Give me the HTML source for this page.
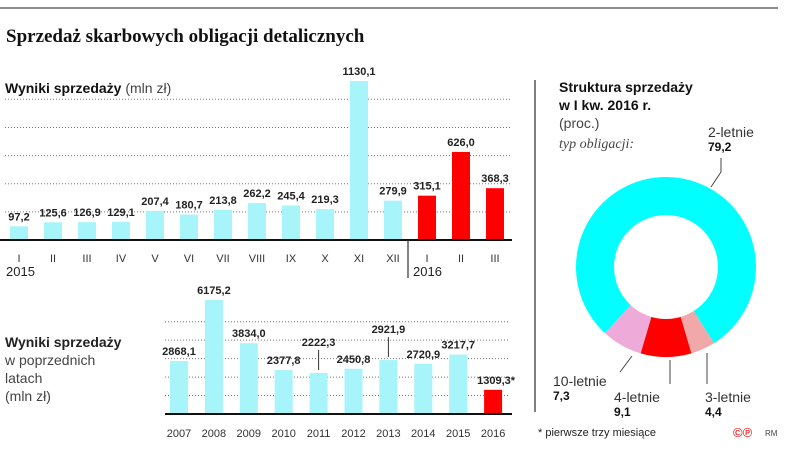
<!DOCTYPE html>
<html><head><meta charset="utf-8"><style>
body{margin:0;background:#fff;width:805px;height:453px;overflow:hidden;font-family:"Liberation Sans",sans-serif}
svg{display:block}
</style></head><body>
<svg id="s" width="805" height="453">
<line x1="0" y1="8" x2="778" y2="8" stroke="#666" stroke-width="1.5"/>
<text x="6" y="42" font-family="Liberation Serif,serif" font-weight="bold" font-size="19" fill="#111">Sprzedaż skarbowych obligacji detalicznych</text>
<text x="5" y="93" font-size="14" fill="#111"><tspan font-weight="bold">Wyniki sprzedaży</tspan> <tspan fill="#444">(mln zł)</tspan></text>
<g id="topg"></g>
<g id="bot"></g>
<g font-size="14" fill="#222">
<text x="5" y="347" font-weight="bold">Wyniki sprzedaży</text>
<text x="5" y="365" fill="#444">w poprzednich</text>
<text x="5" y="383" fill="#444">latach</text>
<text x="5" y="401" fill="#444">(mln zł)</text>
</g>
<line x1="535" y1="80" x2="535" y2="412" stroke="#555" stroke-width="1.5"/>
<g font-size="14" fill="#111">
<text x="559" y="92" font-weight="bold">Struktura sprzedaży</text>
<text x="559" y="110" font-weight="bold">w I kw. 2016 r.</text>
<text x="559" y="128" fill="#444">(proc.)</text>
<text x="559" y="148" fill="#444" font-family="Liberation Serif,serif" font-style="italic">typ obligacji:</text>
</g>
<g id="donut"></g>
<text x="538" y="436" font-size="11" fill="#222">* pierwsze trzy miesiące</text>
<text x="733" y="437" font-size="13" fill="#e33" font-weight="bold">©℗</text>
<text x="765" y="436" font-size="8" fill="#444">RM</text>
</svg>
<script>
const months=["I","II","III","IV","V","VI","VII","VIII","IX","X","XI","XII","I","II","III"];
const monthVals=[97.2,125.6,126.9,129.1,207.4,180.7,213.8,262.2,245.4,219.3,1130.1,279.9,315.1,626.0,368.3];
const monthLabels=["97,2","125,6","126,9","129,1","207,4","180,7","213,8","262,2","245,4","219,3","1130,1","279,9","315,1","626,0","368,3"];
const monthRed=[0,0,0,0,0,0,0,0,0,0,0,0,1,1,1];
const years=["2007","2008","2009","2010","2011","2012","2013","2014","2015","2016"];
const yearVals=[2868.1,6175.2,3834.0,2377.8,2222.3,2450.8,2921.9,2720.9,3217.7,1309.3];
const yearLabels=["2868,1","6175,2","3834,0","2377,8","2222,3","2450,8","2921,9","2720,9","3217,7","1309,3*"];
const pieNames=["2-letnie","3-letnie","4-letnie","10-letnie"];
const pieVals=[79.2,4.4,9.1,7.3];
const pieLabels=["79,2","4,4","9,1","7,3"];
const NS="http://www.w3.org/2000/svg";
function mk(p,t,a){const e=document.createElementNS(NS,t);for(const k in a)e.setAttribute(k,a[k]);p.appendChild(e);return e;}
// top chart
const topG=document.getElementById('topg');
const tx=i=>19+i*34.0, ty=v=>240-v*0.1407;
[200,400,600,800,1000].forEach(v=>{const l=mk(topG,'line',{x1:5,x2:510,y1:ty(v),y2:ty(v),stroke:'#777','stroke-dasharray':'1 2','stroke-width':1});

});
monthVals.forEach((v,i)=>{
const b=mk(topG,'rect',{x:tx(i)-9,y:ty(v),width:18,height:240-ty(v),fill:monthRed[i]?'#ff0000':'#a8f4fb'});


const t=mk(topG,'text',{x:tx(i),y:ty(v)-6,'text-anchor':'middle','font-size':11,'font-weight':'bold',fill:'#222'});t.textContent=monthLabels[i];


const m=mk(topG,'text',{x:tx(i),y:262,'text-anchor':'middle','font-size':11,fill:'#333'});m.textContent=months[i];

});
const ba=mk(topG,'line',{x1:0,x2:512,y1:240,y2:240,stroke:'#111','stroke-width':2});


mk(topG,'line',{x1:408,x2:408,y1:240,y2:278,stroke:'#333','stroke-width':1.2});
const y1=mk(topG,'text',{x:6,y:276,'font-size':13,fill:'#222'});y1.textContent='2015';


const y2=mk(topG,'text',{x:413,y:276,'font-size':13,fill:'#222'});y2.textContent='2016';


// bottom chart
const bot=document.getElementById('bot');
const bx=i=>179+i*34.9, by=v=>414-v*0.01846;
[1000,2000,3000,4000,5000].forEach(v=>{const l=mk(bot,'line',{x1:165,x2:510,y1:by(v),y2:by(v),stroke:'#777','stroke-dasharray':'1 2','stroke-width':1});

});
yearVals.forEach((v,i)=>{
const b=mk(bot,'rect',{x:bx(i)-9,y:by(v),width:18,height:414-by(v),fill:i==9?'#ff0000':'#a8f4fb'});


let ly=by(v)-6;if(i==4||i==6)ly=by(v)-27;
const t=mk(bot,'text',{x:bx(i)+(i==9?3:0),y:ly,'text-anchor':'middle','font-size':11,'font-weight':'bold',fill:'#222'});t.textContent=yearLabels[i];


if(i==4||i==6){mk(bot,'line',{x1:bx(i),x2:bx(i),y1:ly+4,y2:by(v)-3,stroke:'#333'});}
const m=mk(bot,'text',{x:bx(i),y:437,'text-anchor':'middle','font-size':11,fill:'#333'});m.textContent=years[i];

});
const bb=mk(bot,'line',{x1:165,x2:512,y1:414,y2:414,stroke:'#111','stroke-width':2});


// donut
const d=document.getElementById('donut');
const cx=666,cy=267,R=90,r=52;
const cols=['#00ffff','#f0a8a8','#ff0000','#eeaad8'];
const tot=pieVals.reduce((a,b)=>a+b,0);
let start=180-(pieVals[1]+pieVals[2]/2)/tot*360-pieVals[0]/tot*360;
const pt=(a,rr)=>[cx+rr*Math.sin(a*Math.PI/180),cy-rr*Math.cos(a*Math.PI/180)];
pieVals.forEach((v,i)=>{const a0=start,a1=start+v/tot*360;start=a1;const lg=(a1-a0)>180?1:0;
const p0=pt(a0,R),p1=pt(a1,R),q1=pt(a1,r),q0=pt(a0,r);
const s=mk(d,'path',{d:`M${p0}A${R},${R} 0 ${lg} 1 ${p1}L${q1}A${r},${r} 0 ${lg} 0 ${q0}Z`,fill:cols[i]});

});
const lpos=[[708,137],[705,402],[614,402],[553,386]];
pieVals.forEach((v,i)=>{const [x,y]=lpos[i];
const n=mk(d,'text',{x:x,y:y,'font-size':14,fill:'#333'});n.textContent=pieNames[i];


const p=mk(d,'text',{x:x,y:y+14,'font-size':12,'font-weight':'bold',fill:'#111'});p.textContent=pieLabels[i];

});
mk(d,'polyline',{points:'721,158 721,172 711,187',fill:'none',stroke:'#444'});
mk(d,'line',{x1:707,y1:384,x2:707,y2:353,stroke:'#444'});
mk(d,'line',{x1:670,y1:384,x2:670,y2:360,stroke:'#444'});
mk(d,'line',{x1:620,y1:372,x2:632,y2:356,stroke:'#444'});
</script>
</body></html>
